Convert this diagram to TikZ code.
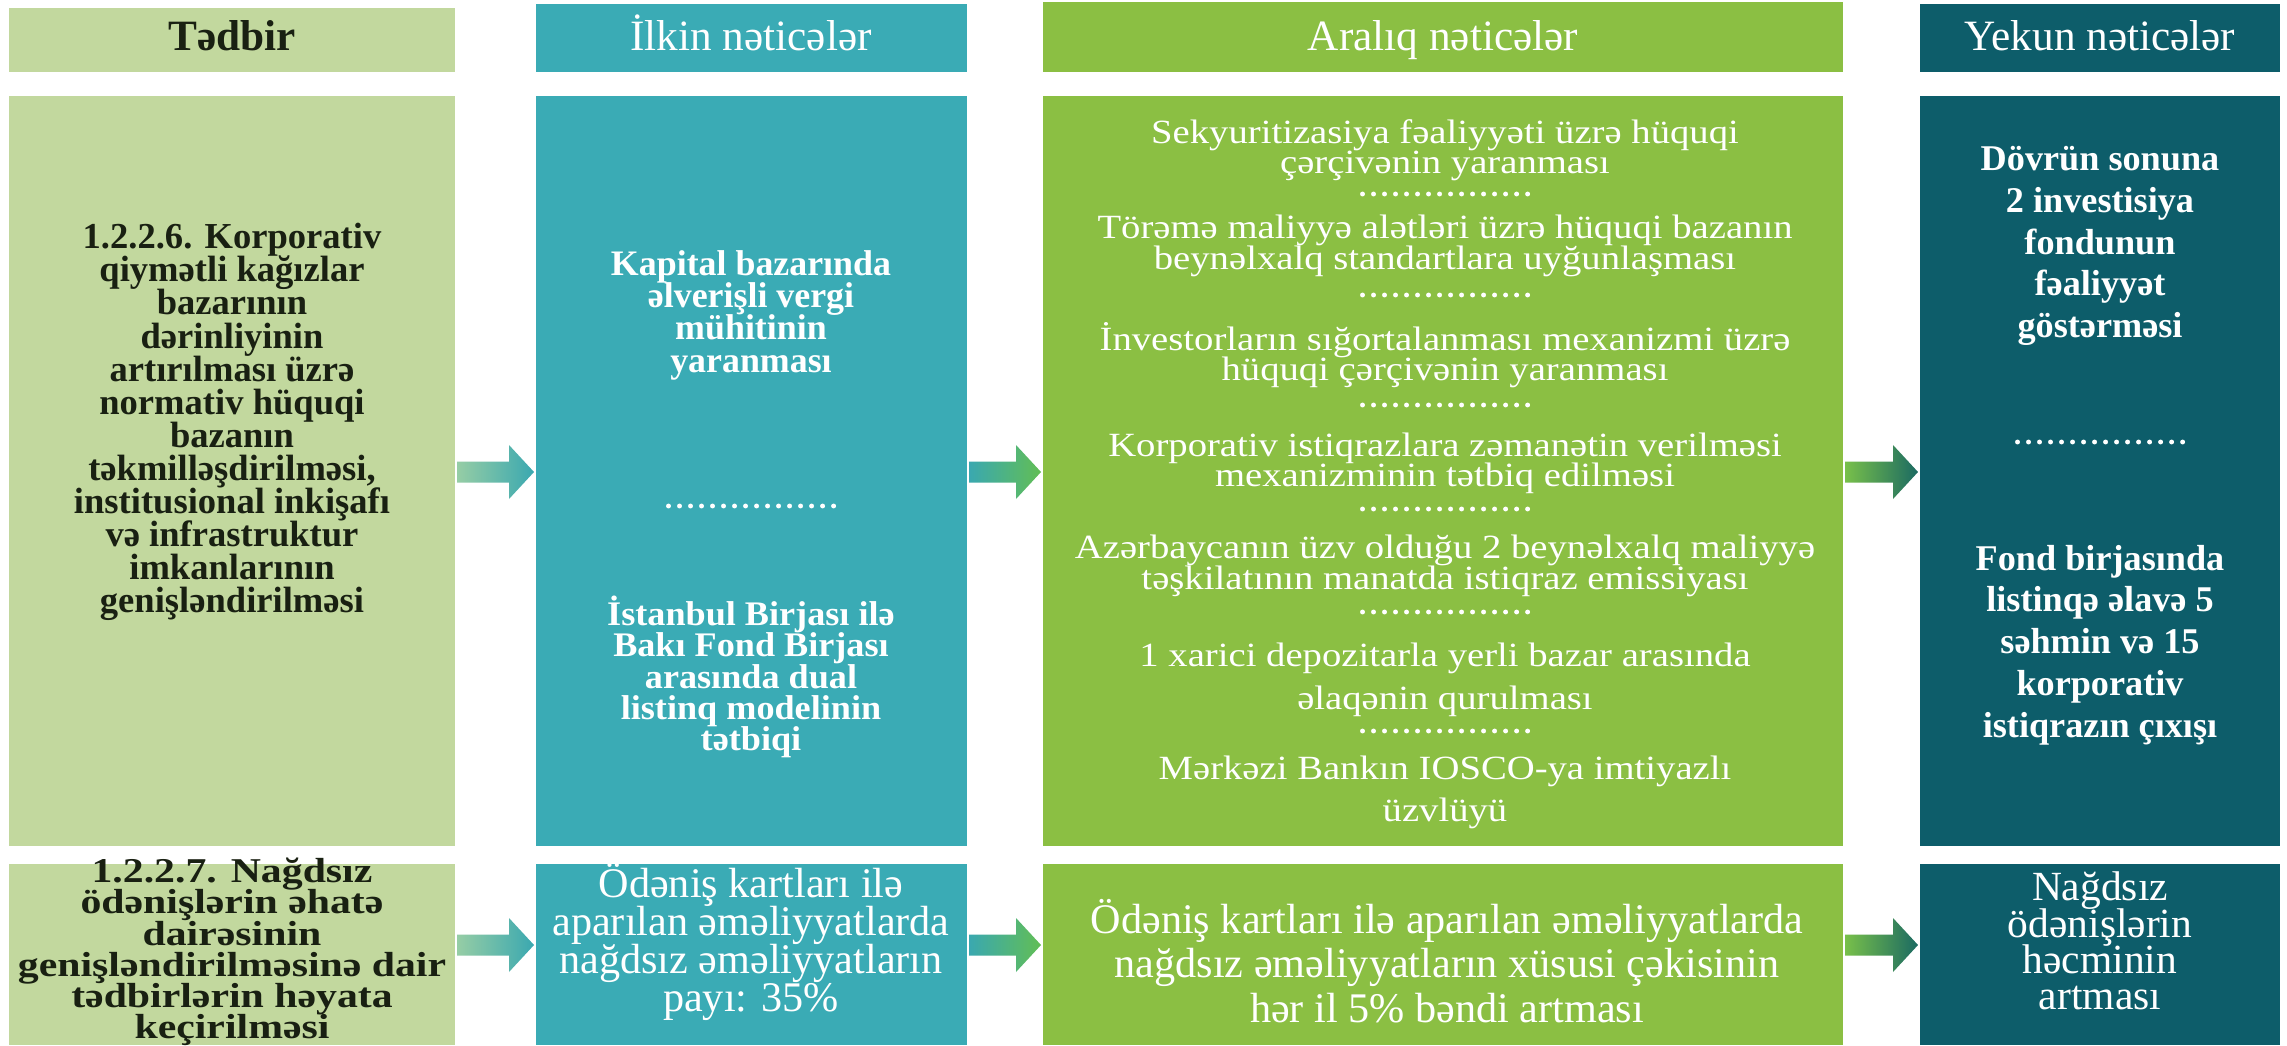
\documentclass[tikz,border=0pt]{standalone}
\usepackage{fontspec}
\setmainfont{Liberation Serif}
\newfontfamily\wideser[FakeStretch=1.14]{Liberation Serif}
\newfontfamily\wideserb[FakeStretch=1.2]{Liberation Serif}
\newfontfamily\widebb[FakeStretch=1.05]{Liberation Serif}
\usetikzlibrary{fit,calc}

\definecolor{cTed}{RGB}{194,216,158}
\definecolor{cIlk}{RGB}{58,171,181}
\definecolor{cAra}{RGB}{139,191,67}
\definecolor{cYek}{RGB}{13,93,106}
\definecolor{cDark}{RGB}{25,32,18}
\definecolor{aLg}{RGB}{150,205,165}
\definecolor{aTe}{RGB}{58,168,176}
\definecolor{aGr}{RGB}{98,190,85}
\definecolor{aGa}{RGB}{120,192,74}
\definecolor{aDk}{RGB}{27,106,98}

\newcommand\tightlines{\lineskiplimit=-100pt\lineskip=0pt}
\newcommand\fsz[2]{\fontsize{#1}{#2}\selectfont\tightlines}

\newcommand\fatarrow[5]{%
  \path[left color=#3, right color=#4]
    ($(#1.east |- 0,#5)+(2,-10.5)$) -- ($(#2.west |- 0,#5)+(-27,-10.5)$)
    -- ($(#2.west |- 0,#5)+(-27,-27)$) -- ($(#2.west |- 0,#5)+(-2,0)$)
    -- ($(#2.west |- 0,#5)+(-27,27)$) -- ($(#2.west |- 0,#5)+(-27,10.5)$)
    -- ($(#1.east |- 0,#5)+(2,10.5)$) -- cycle;}
% dotted separator centred at (x,y)
\newcommand\sepdots[2]{\draw[sepline] (#1-82.5,#2) -- (#1+83,#2);}

\begin{document}
\begin{tikzpicture}[x=0.01cm,y=-0.01cm,
  cell/.style={inner sep=0pt, outer sep=0pt, draw=none},
  txt/.style={align=center, inner sep=0pt, outer sep=0pt},
  sepline/.style={white, line width=1.4pt, line cap=round, dash pattern=on 0pt off 0.11cm},
  hdrt/.style={txt, text=white, font={\fsz{12.3}{14}}, text height=8.5pt, text depth=2.5pt},
  c1t/.style={txt, text=cDark, font={\fsz{10.4}{9.4}\bfseries}},
  c2t/.style={txt, text=white, font={\fsz{10.2}{9.2}\bfseries}},
  c3t/.style={txt, text=white, font={\wideser\fsz{9.65}{8.6}}},
  c4t/.style={txt, text=white, font={\fsz{10.3}{11.9}\bfseries}},
  r2a/.style={txt, text=cDark, font={\wideserb\fsz{9.9}{8.9}\bfseries}},
  r2b/.style={txt, text=white, font={\fsz{12}{10.8}}},
  r2c/.style={txt, text=white, font={\fsz{12}{12.6}}},
  r2d/.style={txt, text=white, font={\fsz{11.8}{10.3}}}
]
\useasboundingbox (0,0) rectangle (2287,1045);
\fill[white] (0,0) rectangle (2287,1045);

% header row
\node[cell, fill=cTed, fit={(9,8)(455,72)}] (h1) {};
\node[cell, fill=cIlk, fit={(536,4)(967,72)}] (h2) {};
\node[cell, fill=cAra, fit={(1043,2)(1843,72)}] (h3) {};
\node[cell, fill=cYek, fit={(1920,4)(2280,72)}] (h4) {};
\node[hdrt, text=cDark, font={\fsz{12.3}{14}\bfseries}] (h1t) at (232,40) {Tədbir};
\node[hdrt] (h2t) at (751,40) {İlkin nəticələr};
\node[hdrt] (h3t) at (1443,40) {Aralıq nəticələr};
\node[hdrt] (h4t) at (2100,40) {Yekun nəticələr};

% row 1
\node[cell, fill=cTed, fit={(9,96)(455,846)}] (a1) {};
\node[cell, fill=cIlk, fit={(536,96)(967,846)}] (b1) {};
\node[cell, fill=cAra, fit={(1043,96)(1843,846)}] (c1) {};
\node[cell, fill=cYek, fit={(1920,96)(2280,846)}] (d1) {};

% row 2
\node[cell, fill=cTed, fit={(9,864)(455,1045)}] (a2) {};
\node[cell, fill=cIlk, fit={(536,864)(967,1045)}] (b2) {};
\node[cell, fill=cAra, fit={(1043,864)(1843,1045)}] (c2) {};
\node[cell, fill=cYek, fit={(1920,864)(2280,1045)}] (d2) {};

% arrows
\fatarrow{a1}{b1}{aLg}{aTe}{472}
\fatarrow{b1}{c1}{aTe}{aGr}{472}
\fatarrow{c1}{d1}{aGa}{aDk}{472}
\fatarrow{a2}{b2}{aLg}{aTe}{945}
\fatarrow{b2}{c2}{aTe}{aGr}{945}
\fatarrow{c2}{d2}{aGa}{aDk}{945}

% row 1 texts
\node[c1t] (a1t) at (232,422) {1.2.2.6. Korporativ\\qiymətli kağızlar\\bazarının\\dərinliyinin\\artırılması üzrə\\normativ hüquqi\\bazanın\\təkmilləşdirilməsi,\\institusional inkişafı\\və infrastruktur\\imkanlarının\\genişləndirilməsi};

\node[c2t] (b1t1) at (751,315) {Kapital bazarında\\əlverişli vergi\\mühitinin\\yaranması};
\sepdots{751}{506}
\node[c2t, font={\widebb\fsz{9.8}{8.9}\bfseries}] (b1t2) at (751,677) {İstanbul Birjası ilə\\Bakı Fond Birjası\\arasında dual\\listinq modelinin\\tətbiqi};

\node[c3t] (c1t1) at (1445,150) {Sekyuritizasiya fəaliyyəti üzrə hüquqi\\çərçivənin yaranması};
\sepdots{1445}{194}
\node[c3t] (c1t2) at (1445,246) {Törəmə maliyyə alətləri üzrə hüquqi bazanın\\beynəlxalq standartlara uyğunlaşması};
\sepdots{1445}{295}
\node[c3t] (c1t3) at (1445,355) {İnvestorların sığortalanması mexanizmi üzrə\\hüquqi çərçivənin yaranması};
\sepdots{1445}{405}
\node[c3t] (c1t4) at (1445,463) {Korporativ istiqrazlara zəmanətin verilməsi\\mexanizminin tətbiq edilməsi};
\sepdots{1445}{509}
\node[c3t] (c1t5) at (1445,566) {Azərbaycanın üzv olduğu 2 beynəlxalq maliyyə\\təşkilatının manatda istiqraz emissiyası};
\sepdots{1445}{612}
\node[c3t, font={\wideser\fsz{9.65}{12.1}}] (c1t6) at (1445,680) {1 xarici depozitarla yerli bazar arasında\\əlaqənin qurulması};
\sepdots{1445}{731}
\node[c3t, font={\wideser\fsz{9.65}{11.9}}] (c1t7) at (1445,792) {Mərkəzi Bankın IOSCO-ya imtiyazlı\\üzvlüyü};

\node[c4t] (d1t1) at (2100,246) {Dövrün sonuna\\2 investisiya\\fondunun\\fəaliyyət\\göstərməsi};
\sepdots{2100}{442}
\node[c4t] (d1t2) at (2100,645) {Fond birjasında\\listinqə əlavə 5\\səhmin və 15\\korporativ\\istiqrazın çıxışı};

% row 2 texts
\node[r2a] (a2t) at (232,952) {1.2.2.7. Nağdsız\\ödənişlərin əhatə\\dairəsinin\\genişləndirilməsinə dair\\tədbirlərin həyata\\keçirilməsi};
\node[r2b] (b2t) at (751,942) {Ödəniş kartları ilə\\aparılan əməliyyatlarda\\nağdsız əməliyyatların\\payı: 35\%};
\node[r2c] (c2t) at (1447,961) {Ödəniş kartları ilə aparılan əməliyyatlarda\\nağdsız əməliyyatların xüsusi çəkisinin\\hər il 5\% bəndi artması};
\node[r2d] (d2t) at (2100,941) {Nağdsız\\ödənişlərin\\həcminin\\artması};
\end{tikzpicture}
\end{document}
